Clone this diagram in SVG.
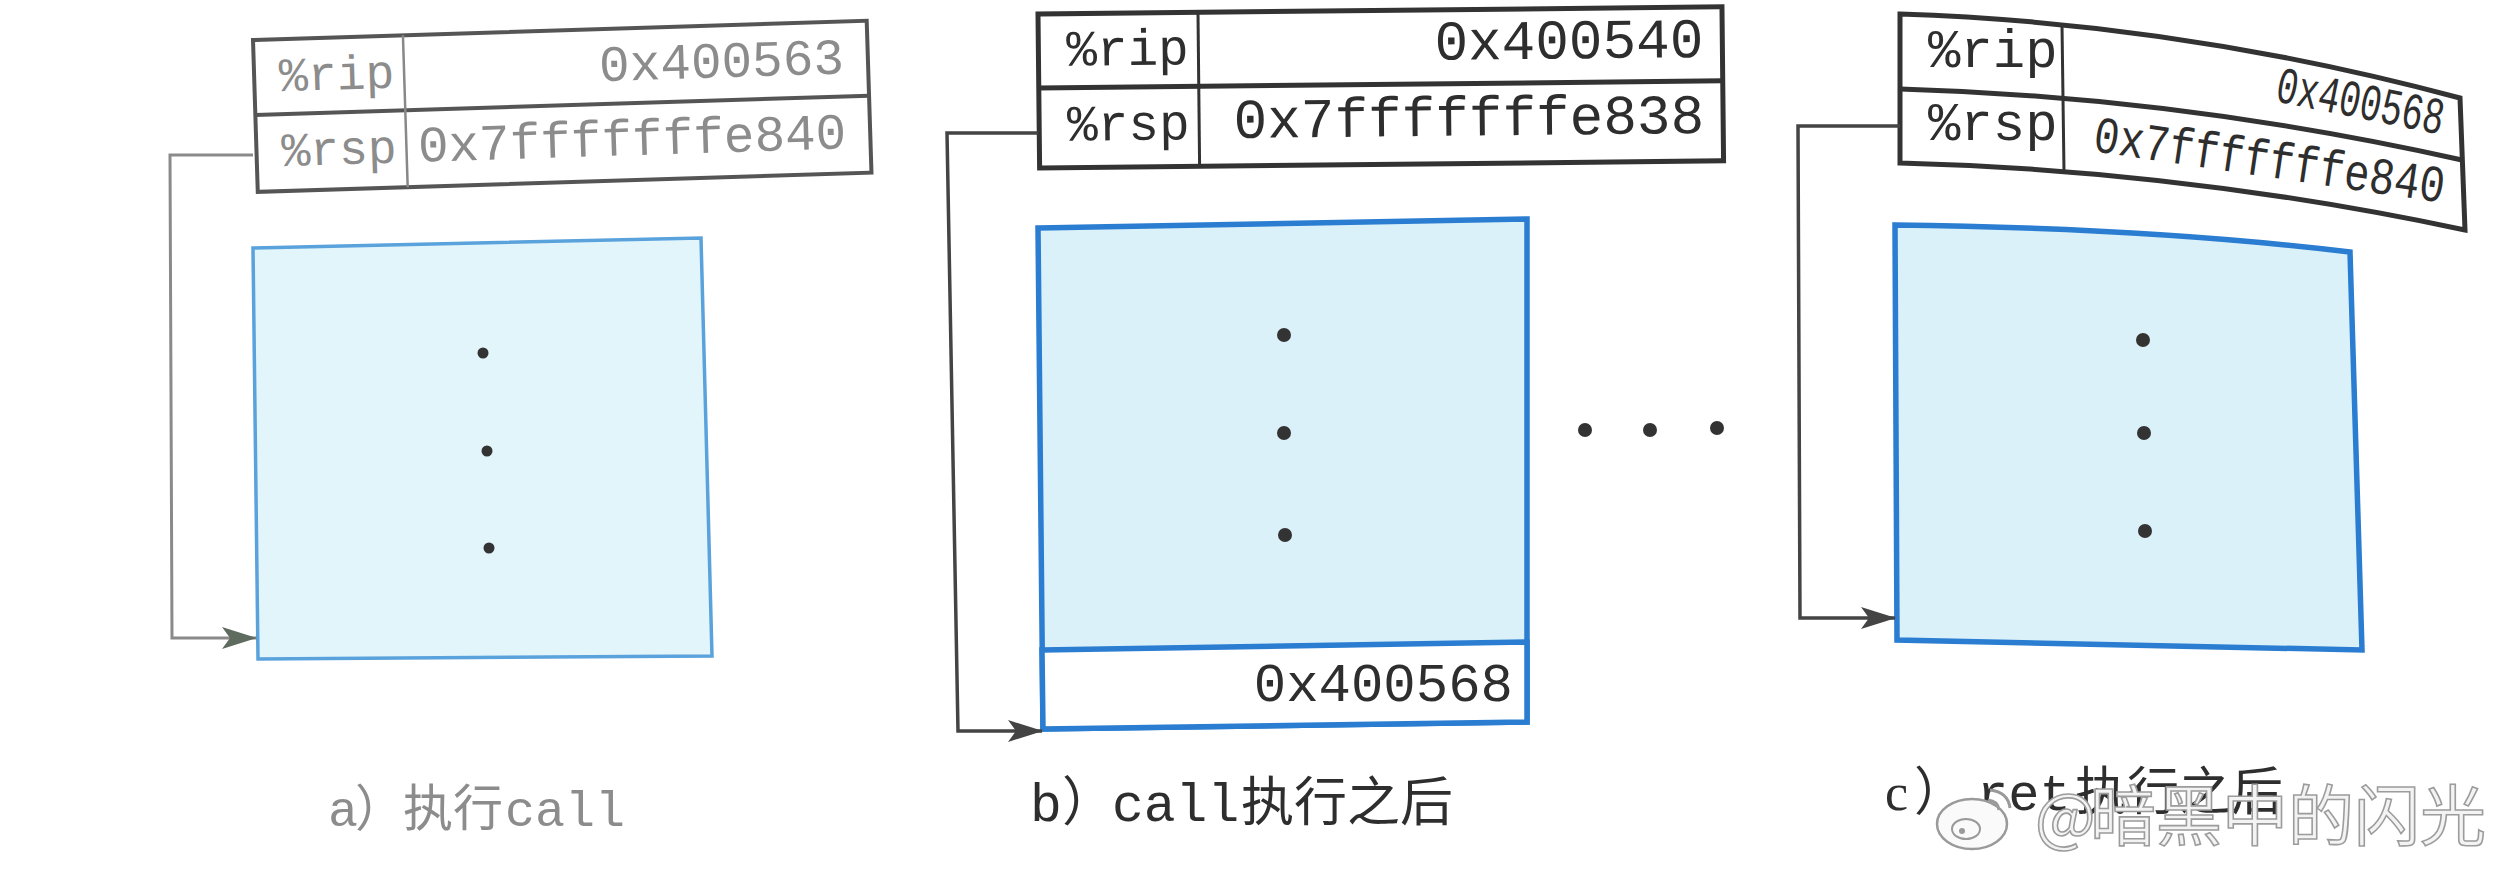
<svg xmlns="http://www.w3.org/2000/svg" width="2506" height="878" viewBox="0 0 2506 878">
<defs>
<style>
.mono{font-family:"Liberation Mono","DejaVu Sans Mono",monospace}
.cjk{font-family:"Noto Sans CJK SC","Noto Sans",sans-serif}
.serif{font-family:"Liberation Serif","Noto Sans CJK SC",serif}
.ta{fill:#8c8c8c}
.tb{fill:#2e2e2e}
.tbl-a{fill:#fff;stroke:#555;stroke-width:4}
.tbl{fill:#fff;stroke:#333;stroke-width:5}
.ln-a{stroke:#555;stroke-width:4;fill:none}
.ln{stroke:#333;stroke-width:5;fill:none}
.col-a{stroke:#888;stroke-width:2.5}
.col{stroke:#333;stroke-width:3;fill:none}
.stack-a{fill:#e2f5fb;stroke:#5aa2dc;stroke-width:3.5}
.stack{fill:#dbf1fa;stroke:#2a7dd0;stroke-width:5.5}
.dot{fill:#333}
.conn-a{fill:none;stroke:#8a8a8a;stroke-width:3}
.conn{fill:none;stroke:#444;stroke-width:3.5}
</style>
<marker id="arr-a" markerUnits="userSpaceOnUse" markerWidth="36" markerHeight="24" refX="34" refY="11" orient="auto">
<path d="M0,0 L35,11 L0,22 L8,11 Z" fill="#5e6b5e"/>
</marker>
<marker id="arr" markerUnits="userSpaceOnUse" markerWidth="36" markerHeight="24" refX="34" refY="11" orient="auto">
<path d="M0,0 L35,11 L0,22 L8,11 Z" fill="#444"/>
</marker>
</defs>
<rect width="2506" height="878" fill="#ffffff"/>

<!-- Panel a -->
<g id="reg-a" transform="rotate(-1.8 253 40)">
<rect x="253" y="40" width="614" height="152" class="tbl-a"/>
<line x1="253" y1="115" x2="867" y2="115" class="ln-a"/>
<line x1="403" y1="40" x2="403" y2="192" class="col-a"/>
<text x="278" y="92" class="mono ta" font-size="48">%rip</text>
<text x="843" y="92" class="mono ta" font-size="51" text-anchor="end">0x400563</text>
<text x="278" y="167" class="mono ta" font-size="48">%rsp</text>
<text x="843" y="167" class="mono ta" font-size="51" text-anchor="end">0x7fffffffe840</text>
</g>
<g id="stack-a">
<polygon points="253,248 701,238 712,656 258,659" class="stack-a"/>
<circle cx="483" cy="353" r="5.5" class="dot"/>
<circle cx="487" cy="451" r="5.5" class="dot"/>
<circle cx="489" cy="548" r="5.5" class="dot"/>
</g>
<g id="caption-a" font-size="50">
<text y="826" class="ta"><tspan x="328" class="mono">a</tspan><tspan x="355" class="cjk">）</tspan><tspan x="403" class="cjk">执行</tspan><tspan x="505" class="mono">call</tspan></text>
</g>

<!-- Panel b -->
<g id="reg-b" transform="rotate(-0.6 1038 14)">
<rect x="1038" y="14" width="684" height="154" class="tbl"/>
<line x1="1038" y1="88" x2="1722" y2="88" class="ln"/>
<line x1="1198" y1="14" x2="1198" y2="168" class="col"/>
<text x="1066" y="66" class="mono tb" font-size="51">%rip</text>
<text x="1703" y="64" class="mono tb" font-size="56" text-anchor="end">0x400540</text>
<text x="1066" y="141" class="mono tb" font-size="51">%rsp</text>
<text x="1703" y="140" class="mono tb" font-size="56" text-anchor="end">0x7fffffffe838</text>
</g>
<g id="stack-b">
<polygon points="1038,228 1527,219 1527,722 1043,729" class="stack"/>
<polygon points="1042,650 1527,642 1527,722 1043,729" fill="#ffffff" stroke="#2a7dd0" stroke-width="5.5"/>
<text x="1513" y="701" class="mono tb" font-size="54" text-anchor="end">0x400568</text>
<circle cx="1284" cy="335" r="7" class="dot"/>
<circle cx="1284" cy="433" r="7" class="dot"/>
<circle cx="1285" cy="535" r="7" class="dot"/>
</g>
<g id="caption-b" font-size="53">
<text y="821" class="tb"><tspan x="1030" class="mono">b</tspan><tspan x="1062" class="cjk">）</tspan><tspan x="1112" class="mono">call</tspan><tspan x="1241" class="cjk">执行之后</tspan></text>
</g>

<g id="ellipsis">
<circle cx="1585" cy="430" r="7" class="dot"/>
<circle cx="1650" cy="430" r="7" class="dot"/>
<circle cx="1717" cy="428" r="7" class="dot"/>
</g>

<!-- Panel c -->
<g id="reg-c">
<path d="M1900,14 Q2180,23 2460,98 L2465,230 Q2182,170 1900,163 Z" class="tbl"/>
<path d="M1900,89 Q2180,97 2462,160" class="ln"/>
<path d="M2062,25 L2064,172" class="col"/>
<text x="1928" y="67" class="mono tb" font-size="54">%rip</text>
<text x="1928" y="140" class="mono tb" font-size="54">%rsp</text>
<text x="2274" y="101" class="mono tb" font-size="52" transform="rotate(11.4 2274 101)" textLength="170" lengthAdjust="spacingAndGlyphs">0x400568</text>
<text x="2092" y="151" class="mono tb" font-size="52" transform="rotate(8.4 2092 151)" textLength="354" lengthAdjust="spacingAndGlyphs">0x7fffffffe840</text>
</g>
<g id="stack-c">
<path d="M1895,225 Q2150,228 2350,252 L2362,650 L1897,640 Z" class="stack"/>
<circle cx="2143" cy="340" r="7" class="dot"/>
<circle cx="2144" cy="433" r="7" class="dot"/>
<circle cx="2145" cy="531" r="7" class="dot"/>
</g>
<g id="caption-c" font-size="52">
<text y="810" class="tb"><tspan x="1885" class="serif">c</tspan><tspan x="1914" class="cjk">）</tspan><tspan x="1977" class="mono">ret</tspan><tspan x="2075" class="cjk">执行之后</tspan></text>
</g>

<!-- Connectors -->
<g id="connectors">
<path d="M253,155 L170,155 L172,638 L256,638" class="conn-a" marker-end="url(#arr-a)"/>
<path d="M1038,133 L947,133 L958,731 L1042,731" class="conn" marker-end="url(#arr)"/>
<path d="M1900,126 L1798,126 L1800,618 L1895,618" class="conn" marker-end="url(#arr)"/>
</g>

<!-- Watermark -->
<g id="watermark">
<ellipse cx="1972" cy="824" rx="35" ry="25" fill="#fafafa" stroke="#9a9a9a" stroke-width="2.5"/>
<ellipse cx="1966" cy="829" rx="14" ry="10" fill="none" stroke="#9a9a9a" stroke-width="2"/>
<circle cx="1962" cy="831" r="3" fill="#9a9a9a"/>
<path d="M1990,790 Q2008,792 2010,808" fill="none" stroke="#9a9a9a" stroke-width="3"/>
<path d="M1988,800 Q1998,801 1999,810" fill="none" stroke="#9a9a9a" stroke-width="3"/>
<text y="840" font-size="64" fill="#f3f3f3" stroke="#9c9c9c" stroke-width="1.6" class="cjk"><tspan x="2035">@</tspan><tspan x="2090" font-size="66">暗黑中的闪光</tspan></text>
</g>
</svg>
